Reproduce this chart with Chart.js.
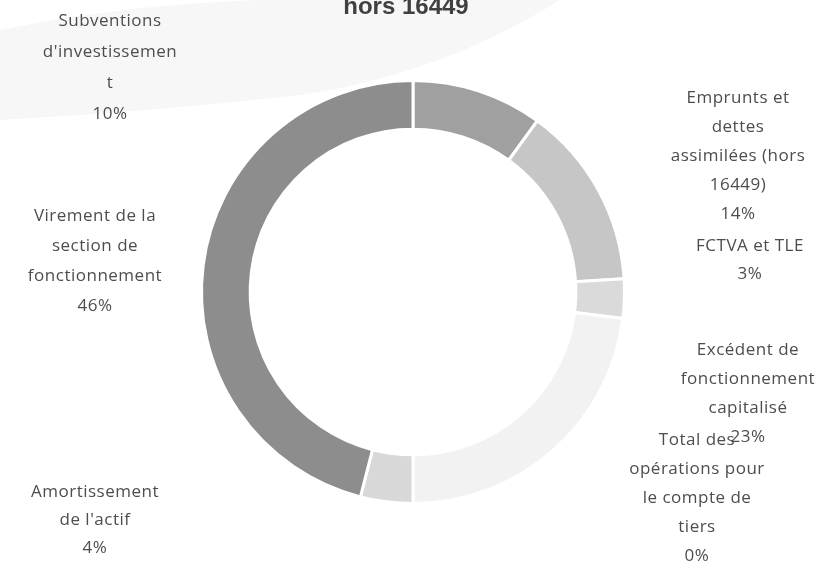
<!DOCTYPE html>
<html>
<head>
<meta charset="utf-8">
<script src="https://cdn.jsdelivr.net/npm/chart.js@4"></script>
<style>
  body { margin: 0; background: #fff; }
  canvas { display: block; }
</style>
</head>
<body>
<canvas id="recettesChart" width="832" height="568"></canvas>
<script>
// Data (Excel order, clockwise from 12 o'clock)
const categories = [
    "Subventions d'investissement",
    "Emprunts et dettes assimilées (hors 16449)",
    "FCTVA et TLE",
    "Excédent de fonctionnement capitalisé",
    "Total des opérations pour le compte de tiers",
    "Amortissement de l'actif",
    "Virement de la section de fonctionnement"
];
const shares = [10, 14, 3, 23, 0, 4, 46];

// Label text as it wraps in the picture
const labelLines = [
    ["Subventions", "d'investissemen", "t"],
    ["Emprunts et", "dettes", "assimilées (hors", "16449)"],
    ["FCTVA et TLE"],
    ["Excédent de", "fonctionnement", "capitalisé"],
    ["Total des", "opérations pour", "le compte de", "tiers"],
    ["Amortissement", "de l'actif"],
    ["Virement de la", "section de", "fonctionnement"]
];

const titleText = 'hors 16449';

// Styling
const sliceColors = ['#a0a0a0', '#c6c6c6', '#dadada', '#f2f2f2', '#e6e6e6', '#d8d8d8', '#8d8d8d'];
// label anchors: [center x, first line y, line height]
const labelAnchors = [
    [110, 21, 31],
    [738, 98, 29],
    [750, 246, 28],
    [748, 350, 29],
    [697, 440, 29],
    [95, 492, 28],
    [95, 216, 30]
];

// Faint scanner smear behind the top left + cut-off title
const backdropPlugin = {
    id: 'backdrop',
    beforeDraw(chart) {
        const ctx = chart.ctx;
        ctx.save();
        ctx.fillStyle = '#f7f7f7';
        ctx.beginPath();
        ctx.moveTo(0, 30);
        ctx.quadraticCurveTo(120, 5, 260, 0);
        ctx.lineTo(560, 0);
        ctx.quadraticCurveTo(440, 75, 300, 95);
        ctx.quadraticCurveTo(150, 112, 0, 120);
        ctx.closePath();
        ctx.fill();
        ctx.restore();
    },
    afterDraw(chart) {
        const ctx = chart.ctx;
        ctx.save();
        ctx.fillStyle = '#404040';
        ctx.font = 'bold 24px "Liberation Sans", sans-serif';
        ctx.textAlign = 'center';
        ctx.textBaseline = 'alphabetic';
        ctx.fillText(titleText, 406, 14);
        ctx.restore();
    }
};

// Outside labels with category + percentage
const outsideLabels = {
    id: 'outsideLabels',
    afterDraw(chart) {
        const ctx = chart.ctx;
        const values = chart.data.datasets[0].data;
        ctx.save();
        ctx.fillStyle = '#4d4d4d';
        ctx.font = '17px "Open Sans", sans-serif';
        ctx.textAlign = 'center';
        ctx.textBaseline = 'middle';
        ctx.letterSpacing = '0.5px';
        labelLines.forEach(function(lines, i) {
            const a = labelAnchors[i];
            const all = lines.concat([values[i] + '%']);
            all.forEach(function(txt, j) {
                ctx.fillText(txt, a[0], a[1] + j * a[2]);
            });
        });
        ctx.restore();
    }
};

new Chart(document.getElementById('recettesChart'), {
    type: 'doughnut',
    data: {
        labels: categories,
        datasets: [{
            data: shares,
            backgroundColor: sliceColors,
            borderColor: '#ffffff',
            borderWidth: 3
        }]
    },
    options: {
        responsive: false,
        animation: false,
        cutout: '77%',
        layout: {
            padding: { top: 79, bottom: 63, left: 200, right: 206 }
        },
        plugins: {
            legend: { display: false },
            tooltip: { enabled: false }
        }
    },
    plugins: [backdropPlugin, outsideLabels]
});
</script>
</body>
</html>
